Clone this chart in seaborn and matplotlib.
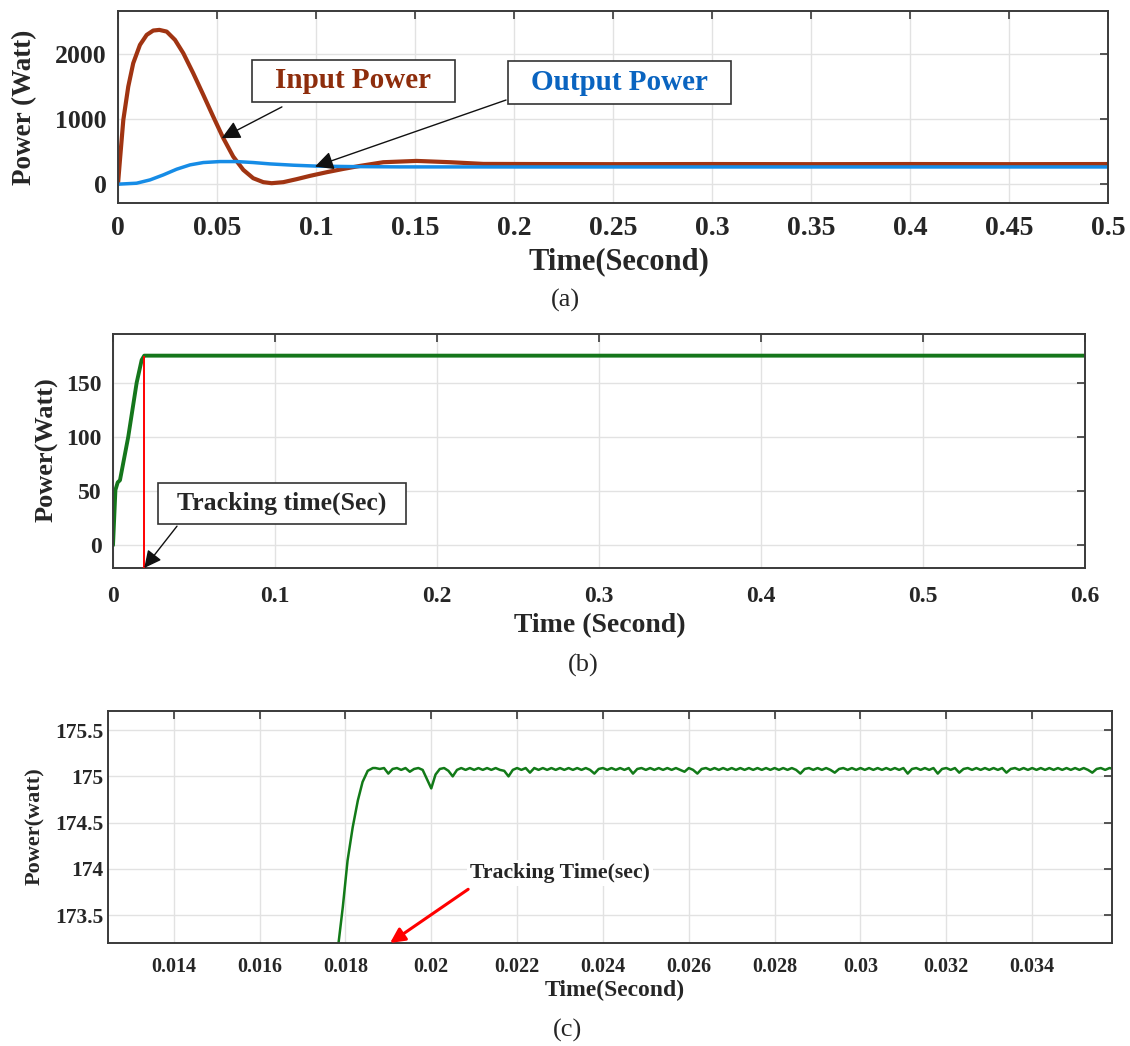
import matplotlib
matplotlib.use("Agg")
import matplotlib.pyplot as plt
from matplotlib.patches import Rectangle
from matplotlib.ticker import FuncFormatter
import seaborn as sns
import pandas as pd

# ---------------- data ----------------
# (a) input / output power
t_in = [0.0, 0.001, 0.0027, 0.0052, 0.0077, 0.0111, 0.0145, 0.0178, 0.0209, 0.0246,
        0.0288, 0.033, 0.038, 0.0431, 0.0481, 0.0532, 0.0582, 0.0633, 0.0683, 0.0734,
        0.0776, 0.0835, 0.0902, 0.097, 0.1054, 0.1138, 0.1222, 0.134, 0.1508, 0.1677,
        0.1845, 0.2097, 0.25, 0.3, 0.35, 0.4, 0.45, 0.5]
p_in = [0, 373, 989, 1502, 1861, 2143, 2297, 2364, 2374, 2348,
        2220, 2015, 1708, 1374, 1040, 708, 425, 220, 92, 31,
        15, 31, 77, 128, 184, 235, 281, 338, 358, 338,
        312, 310, 308, 310, 308, 310, 308, 310]
t_out = [0.0, 0.0094, 0.0162, 0.0229, 0.0296, 0.0364, 0.0431, 0.0515, 0.06, 0.0683,
         0.0768, 0.0886, 0.1003, 0.117, 0.1424, 0.2, 0.3, 0.4, 0.5]
p_out = [0, 15, 66, 143, 230, 297, 333, 348, 348, 333,
         312, 292, 278, 271, 266, 265, 265, 265, 265]

# (b) tracking
t_b = [0.0, 0.0015, 0.0029, 0.0043, 0.0094, 0.0146, 0.0177, 0.0193, 0.05, 0.1, 0.2, 0.3, 0.4, 0.5, 0.6]
p_b = [0, 51, 58, 60, 100, 150, 171, 175, 175, 175, 175, 175, 175, 175, 175]
track_time_b = 0.0193

# (c) zoomed tracking
t_c_rise = [0.01784, 0.01794, 0.01805, 0.01817, 0.01829, 0.01840, 0.01852, 0.01864]
p_c_rise = [173.20, 173.59, 174.09, 174.45, 174.74, 174.94, 175.06, 175.09]
t_c_flat = [
    0.0187, 0.0188, 0.0189, 0.0190, 0.0191, 0.0192, 0.0193, 0.0194, 0.0195, 0.0196,
    0.0197, 0.0198, 0.0199, 0.0200, 0.0201, 0.0202, 0.0203, 0.0204, 0.0205, 0.0206,
    0.0207, 0.0208, 0.0209, 0.0210, 0.0211, 0.0212, 0.0213, 0.0214, 0.0215, 0.0216,
    0.0217, 0.0218, 0.0219, 0.0220, 0.0221, 0.0222, 0.0223, 0.0224, 0.0225, 0.0226,
    0.0227, 0.0228, 0.0229, 0.0230, 0.0231, 0.0232, 0.0233, 0.0234, 0.0235, 0.0236,
    0.0237, 0.0238, 0.0239, 0.0240, 0.0241, 0.0242, 0.0243, 0.0244, 0.0245, 0.0246,
    0.0247, 0.0248, 0.0249, 0.0250, 0.0251, 0.0252, 0.0253, 0.0254, 0.0255, 0.0256,
    0.0257, 0.0258, 0.0259, 0.0260, 0.0261, 0.0262, 0.0263, 0.0264, 0.0265, 0.0266,
    0.0267, 0.0268, 0.0269, 0.0270, 0.0271, 0.0272, 0.0273, 0.0274, 0.0275, 0.0276,
    0.0277, 0.0278, 0.0279, 0.0280, 0.0281, 0.0282, 0.0283, 0.0284, 0.0285, 0.0286,
    0.0287, 0.0288, 0.0289, 0.0290, 0.0291, 0.0292, 0.0293, 0.0294, 0.0295, 0.0296,
    0.0297, 0.0298, 0.0299, 0.0300, 0.0301, 0.0302, 0.0303, 0.0304, 0.0305, 0.0306,
    0.0307, 0.0308, 0.0309, 0.0310, 0.0311, 0.0312, 0.0313, 0.0314, 0.0315, 0.0316,
    0.0317, 0.0318, 0.0319, 0.0320, 0.0321, 0.0322, 0.0323, 0.0324, 0.0325, 0.0326,
    0.0327, 0.0328, 0.0329, 0.0330, 0.0331, 0.0332, 0.0333, 0.0334, 0.0335, 0.0336,
    0.0337, 0.0338, 0.0339, 0.0340, 0.0341, 0.0342, 0.0343, 0.0344, 0.0345, 0.0346,
    0.0347, 0.0348, 0.0349, 0.0350, 0.0351, 0.0352, 0.0353, 0.0354, 0.0355, 0.0356,
    0.0357, 0.0358, 0.0359]
p_c_flat = [
    175.09, 175.08, 175.09, 175.03, 175.08, 175.09, 175.07, 175.09, 175.05, 175.08,
    175.09, 175.07, 174.97, 174.87, 175.02, 175.08, 175.09, 175.06, 175.00, 175.07,
    175.09, 175.07, 175.09, 175.07, 175.09, 175.07, 175.09, 175.07, 175.09, 175.07,
    175.06, 175.00, 175.07, 175.09, 175.07, 175.09, 175.04, 175.09, 175.07, 175.09,
    175.07, 175.09, 175.07, 175.09, 175.07, 175.09, 175.07, 175.09, 175.07, 175.09,
    175.07, 175.03, 175.08, 175.09, 175.07, 175.09, 175.07, 175.09, 175.07, 175.09,
    175.03, 175.08, 175.09, 175.07, 175.09, 175.07, 175.09, 175.07, 175.09, 175.07,
    175.09, 175.07, 175.05, 175.09, 175.07, 175.03, 175.08, 175.09, 175.07, 175.09,
    175.07, 175.09, 175.07, 175.09, 175.07, 175.09, 175.07, 175.09, 175.07, 175.09,
    175.07, 175.09, 175.07, 175.09, 175.07, 175.09, 175.07, 175.09, 175.07, 175.03,
    175.08, 175.09, 175.07, 175.09, 175.07, 175.09, 175.07, 175.04, 175.08, 175.09,
    175.07, 175.09, 175.07, 175.09, 175.07, 175.09, 175.07, 175.09, 175.07, 175.09,
    175.07, 175.09, 175.07, 175.09, 175.03, 175.08, 175.09, 175.07, 175.09, 175.07,
    175.09, 175.03, 175.08, 175.09, 175.07, 175.09, 175.04, 175.08, 175.09, 175.07,
    175.09, 175.07, 175.09, 175.07, 175.09, 175.07, 175.09, 175.04, 175.08, 175.09,
    175.07, 175.09, 175.07, 175.09, 175.07, 175.09, 175.07, 175.09, 175.07, 175.09,
    175.07, 175.09, 175.07, 175.09, 175.07, 175.09, 175.07, 175.04, 175.08, 175.09,
    175.07, 175.09, 175.08]

xticks_a = [0, 0.05, 0.1, 0.15, 0.2, 0.25, 0.3, 0.35, 0.4, 0.45, 0.5]
yticks_a = [0, 1000, 2000]
xticks_b = [0, 0.1, 0.2, 0.3, 0.4, 0.5, 0.6]
yticks_b = [0, 50, 100, 150]
xticks_c = [0.014, 0.016, 0.018, 0.02, 0.022, 0.024, 0.026, 0.028, 0.03, 0.032, 0.034]
yticks_c = [173.5, 174, 174.5, 175, 175.5]

# ---------------- style ----------------
sns.set_style("white")
plt.rcParams['font.family'] = ['Liberation Serif', 'DejaVu Serif']
plt.rcParams['font.weight'] = 'bold'
plt.rcParams['axes.labelweight'] = 'bold'

BROWN = '#A03412'
BLUE = '#168CE6'
GREEN_B = '#15761B'
GREEN_C = '#127A18'
GRIDC = '#e2e2e2'
FRAME = '#3a3a3a'

fmt = FuncFormatter(lambda v, p: ('%g' % v))

fig = plt.figure(figsize=(11.3, 10.46), dpi=100)
ax_a = fig.add_axes([0.1044, 0.8059, 0.8761, 0.1836])
ax_b = fig.add_axes([0.1000, 0.4570, 0.8602, 0.2237])
ax_c = fig.add_axes([0.0956, 0.0985, 0.8885, 0.2221])


def style(ax, xt, yt, fsx, fsy, padx, pady):
    ax.set_xticks(xt)
    ax.set_yticks(yt)
    ax.xaxis.set_major_formatter(fmt)
    ax.yaxis.set_major_formatter(fmt)
    ax.grid(True, color=GRIDC, lw=1.0)
    ax.set_axisbelow(True)
    ax.tick_params(axis='both', which='both', direction='in', top=True, right=True,
                   length=6, width=1.2, color=FRAME)
    ax.tick_params(axis='x', labelsize=fsx, pad=padx)
    ax.tick_params(axis='y', labelsize=fsy, pad=pady)
    for s in ax.spines.values():
        s.set_visible(True)
        s.set_color(FRAME)
        s.set_linewidth(1.4)
    for lbl in ax.get_xticklabels() + ax.get_yticklabels():
        lbl.set_fontweight('bold')
    ax.set_xlabel('')
    ax.set_ylabel('')


# ---------------- panel (a) ----------------
df_in = pd.DataFrame({'t': t_in, 'p': p_in})
df_out = pd.DataFrame({'t': t_out, 'p': p_out})
sns.lineplot(data=df_in, x='t', y='p', ax=ax_a, color=BROWN, lw=3.0, estimator=None, sort=False)
sns.lineplot(data=df_out, x='t', y='p', ax=ax_a, color=BLUE, lw=2.5, estimator=None, sort=False)
ax_a.set_xlim(0, 0.5)
ax_a.set_ylim(-290, 2665)
style(ax_a, xticks_a, yticks_a, 20, 18.5, 9, 8)

ax_a.add_patch(Rectangle((0.0677, 1266), 0.1023, 646, fill=True, facecolor='white',
                         edgecolor='#333333', lw=1.2, zorder=5))
ax_a.text(0.1189, 1589, 'Input Power', color='#8E2D0C', fontsize=21, fontweight='bold',
          ha='center', va='center', zorder=6)
ax_a.add_patch(Rectangle((0.197, 1235), 0.1126, 662, fill=True, facecolor='white',
                         edgecolor='#333333', lw=1.2, zorder=5))
ax_a.text(0.2533, 1566, 'Output Power', color='#0A64C0', fontsize=21, fontweight='bold',
          ha='center', va='center', zorder=6)
arrow_k = dict(arrowstyle='-|>', color='#111111', lw=1.0, mutation_scale=28,
               shrinkA=0, shrinkB=0)
ax_a.annotate('', xy=(0.0524, 708), xytext=(0.0828, 1189), arrowprops=arrow_k, zorder=7)
ax_a.annotate('', xy=(0.0995, 271), xytext=(0.196, 1295), arrowprops=arrow_k, zorder=7)

fig.text(0.022, 0.8977, 'Power (Watt)', rotation=90, ha='center', va='center',
         fontsize=19.5, fontweight='bold')
fig.text(0.548, 0.7495, 'Time(Second)', ha='center', va='center', fontsize=22, fontweight='bold')
fig.text(0.500, 0.7132, '(a)', ha='center', va='center', fontsize=19, fontweight='normal')

# ---------------- panel (b) ----------------
df_b = pd.DataFrame({'t': t_b, 'p': p_b})
ax_b.set_xlim(0, 0.6)
ax_b.set_ylim(-21, 195)
ax_b.vlines(track_time_b, -21, 175, color='#ff0000', lw=1.4, zorder=3)
sns.lineplot(data=df_b, x='t', y='p', ax=ax_b, color=GREEN_B, lw=2.8, estimator=None, sort=False)
style(ax_b, xticks_b, yticks_b, 17, 17, 13, 8)

ax_b.add_patch(Rectangle((0.0278, 19.4), 0.1532, 38.0, fill=True, facecolor='white',
                         edgecolor='#333333', lw=1.2, zorder=5))
ax_b.text(0.1044, 38.4, 'Tracking time(Sec)', fontsize=18.5, fontweight='bold', ha='center',
          va='center', zorder=6)
ax_b.annotate('', xy=(track_time_b, -21), xytext=(0.0395, 17.6),
              arrowprops=dict(arrowstyle='-|>', color='#111111', lw=1.0, mutation_scale=26,
                              shrinkA=0, shrinkB=0), annotation_clip=False, zorder=7)

fig.text(0.0416, 0.5698, 'Power(Watt)', rotation=90, ha='center', va='center',
         fontsize=19, fontweight='bold')
fig.text(0.531, 0.4015, 'Time (Second)', ha='center', va='center', fontsize=20, fontweight='bold')
fig.text(0.516, 0.3642, '(b)', ha='center', va='center', fontsize=19, fontweight='normal')

# ---------------- panel (c) ----------------
df_c = pd.DataFrame({'t': t_c_rise + t_c_flat, 'p': p_c_rise + p_c_flat})
sns.lineplot(data=df_c, x='t', y='p', ax=ax_c, color=GREEN_C, lw=1.8, estimator=None, sort=False)
ax_c.set_xlim(0.01247, 0.03586)
ax_c.set_ylim(173.2, 175.71)
style(ax_c, xticks_c, yticks_c, 14.5, 15.5, 10, 3)

ax_c.text(0.02091, 173.957, 'Tracking Time(sec)', fontsize=15.7, fontweight='bold',
          ha='left', va='center', zorder=6,
          bbox=dict(boxstyle='square,pad=0.15', facecolor='white', edgecolor='none'))
ax_c.annotate('', xy=(0.01904, 173.2), xytext=(0.02086, 173.78),
              arrowprops=dict(arrowstyle='-|>', color='#ff0000', lw=2.2, mutation_scale=22,
                              shrinkA=0, shrinkB=0), annotation_clip=False, zorder=7)

fig.text(0.031, 0.2103, 'Power(watt)', rotation=90, ha='center', va='center',
         fontsize=16, fontweight='bold')
fig.text(0.544, 0.0535, 'Time(Second)', ha='center', va='center', fontsize=17, fontweight='bold')
fig.text(0.502, 0.0153, '(c)', ha='center', va='center', fontsize=19, fontweight='normal')

fig.savefig('out.png', dpi=100)
